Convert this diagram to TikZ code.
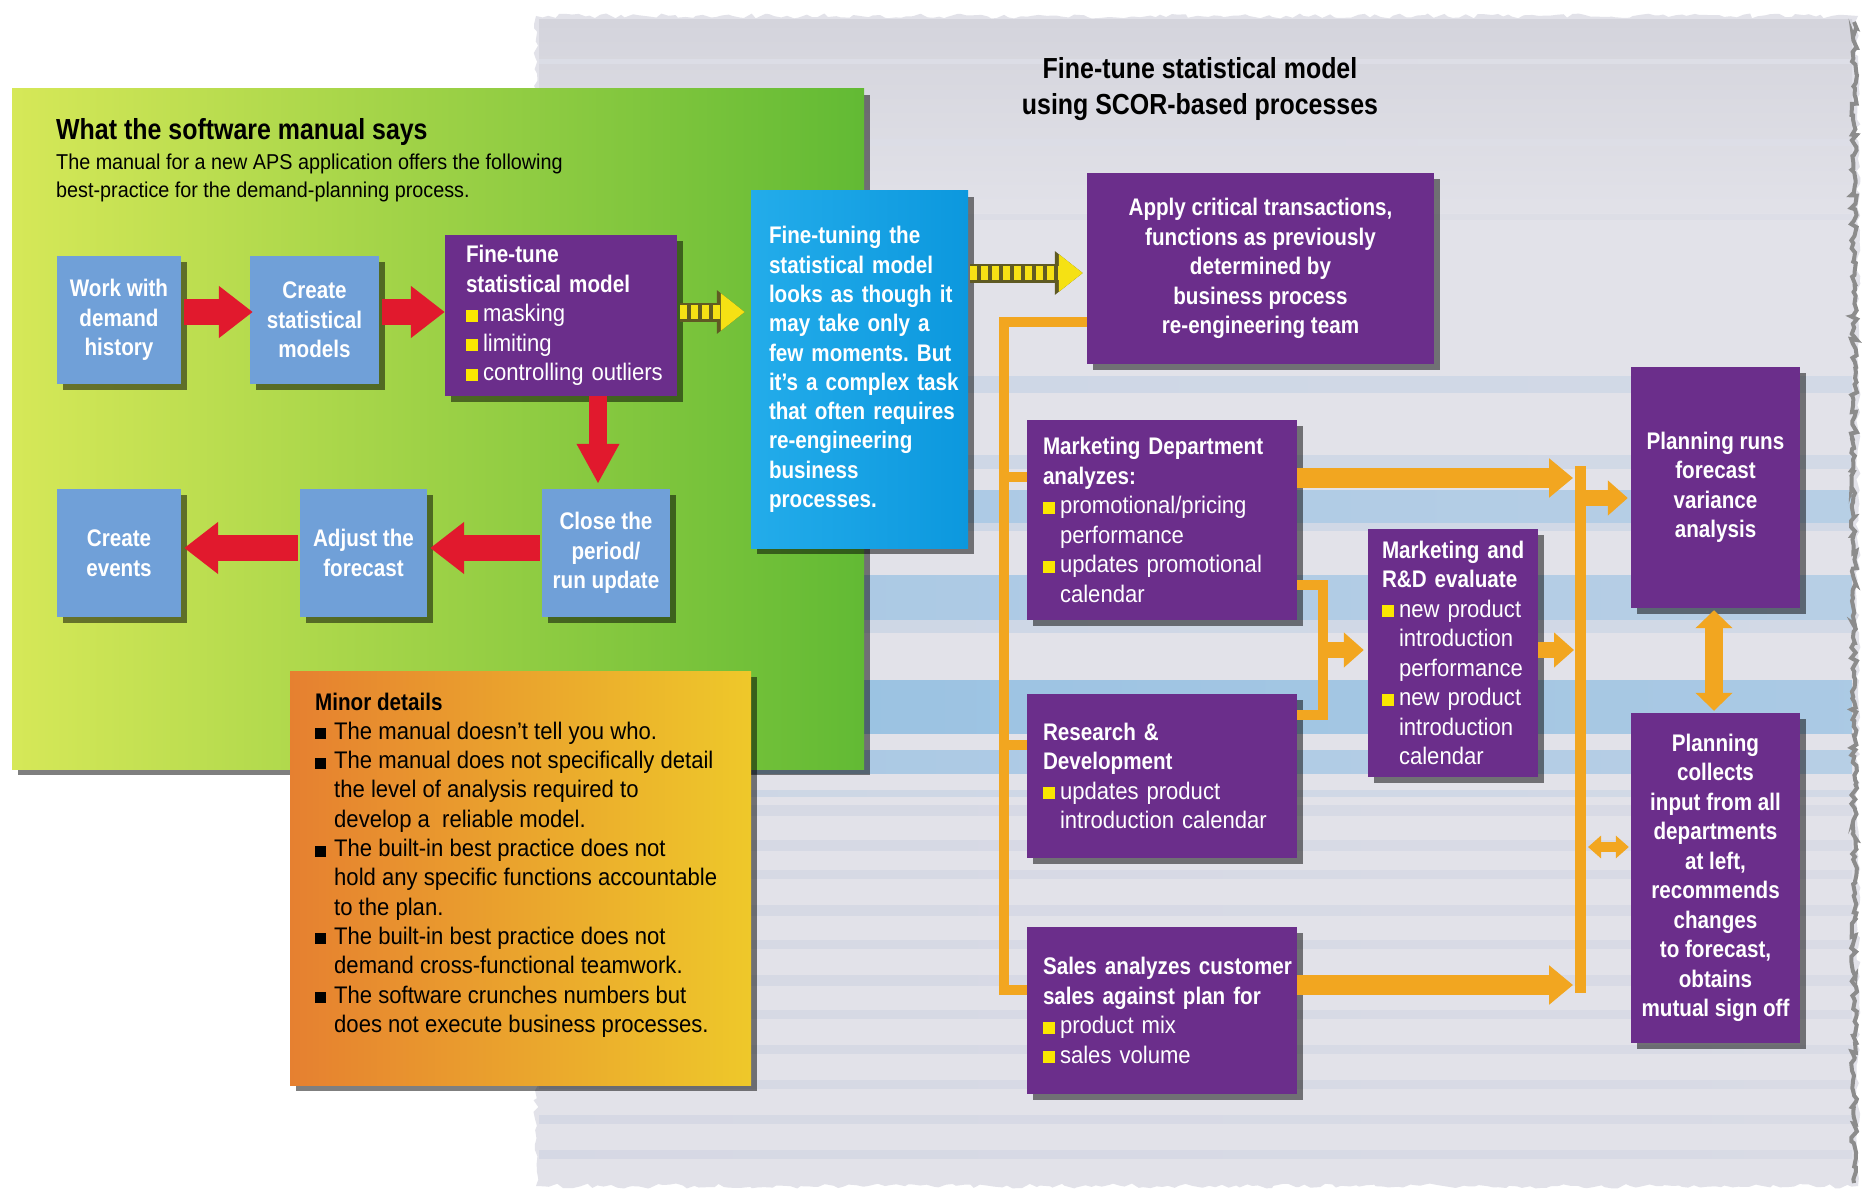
\documentclass[tikz,border=0pt]{standalone}
\usepackage{fontspec}
\setmainfont{Liberation Sans}[FakeStretch=0.92]
\newfontfamily\condreg{Liberation Sans}[FakeStretch=0.92]
\newfontfamily\condbold{Liberation Sans}[FakeStretch=0.86]
\usetikzlibrary{arrows.meta,shadows,calc,decorations.pathmorphing}
\frenchspacing

\definecolor{lblue}{RGB}{112,160,216}
\definecolor{purp}{RGB}{107,46,139}
\definecolor{cyanL}{RGB}{35,172,234}
\definecolor{cyanR}{RGB}{12,152,222}
\definecolor{orng}{RGB}{242,166,32}
\definecolor{arrred}{RGB}{225,25,45}
\definecolor{ybul}{RGB}{250,230,0}
\definecolor{yarr}{RGB}{245,225,20}
\definecolor{yarrdark}{RGB}{95,90,35}
\definecolor{pgray}{RGB}{226,226,233}
\definecolor{ptop}{RGB}{212,212,220}
\definecolor{st1}{RGB}{88,165,220}
\definecolor{st2}{RGB}{120,178,224}
\definecolor{st3}{RGB}{186,204,226}
\definecolor{st4}{RGB}{203,208,224}
\definecolor{st5}{RGB}{214,216,227}
\definecolor{gL}{RGB}{214,232,88}
\definecolor{gM}{RGB}{162,212,72}
\definecolor{gR}{RGB}{98,186,52}
\definecolor{oL}{RGB}{230,128,48}
\definecolor{oR}{RGB}{238,200,42}

\newcommand\bt[1]{\mbox{\condbold\bfseries #1}}
\newcommand\yb[1]{\mbox{\textcolor{ybul}{\rule{12pt}{12pt}}\hspace{5pt}\condreg #1}}
\newcommand\yc[1]{\mbox{\hspace*{17pt}\condreg #1}}
\newcommand\kb[1]{\mbox{\rule{11pt}{11pt}\hspace{8pt}\condreg #1}}
\newcommand\kc[1]{\mbox{\hspace*{19pt}\condreg #1}}

\tikzset{
  shad/.style={drop shadow={shadow xshift=6pt, shadow yshift=-6pt, opacity=0.5, fill=black}},
  boxfont/.style={font=\fontsize{24}{29.5}\selectfont\condbold\bfseries},
  lbox/.style={shad, fill=lblue, text=white, align=center, inner sep=0pt, boxfont},
  pbox/.style={shad, fill=purp, text=white, align=center, inner sep=0pt, boxfont},
  plbox/.style={shad, fill=purp, text=white, align=left, inner ysep=0pt, font=\fontsize{24}{29.5}\selectfont},
  redarr/.style={draw=arrred, line width=26pt, -{Triangle[width=50pt,length=34pt]}},
  redarrv/.style={draw=arrred, line width=18pt, -{Triangle[width=40pt,length=40pt]}},
  yarrow/.style={draw=yarr, line width=14pt, dash pattern=on 7pt off 4pt,
     -{Triangle[width=36pt,length=24pt]},
     preaction={draw=yarrdark, solid, line width=19pt, -{Triangle[width=42pt,length=28pt]}}},
  oline/.style={draw=orng, line width=10pt},
  obig/.style={draw=orng, line width=20pt, -{Triangle[width=38pt,length=24pt]}},
  omed/.style={draw=orng, line width=16pt, -{Triangle[width=34pt,length=20pt]}},
  odbl/.style={draw=orng, line width=18pt, {Triangle[width=36pt,length=18pt]}-{Triangle[width=36pt,length=18pt]}},
  osdbl/.style={draw=orng, line width=10pt, {Triangle[width=22pt,length=13pt]}-{Triangle[width=22pt,length=13pt]}},
}

\begin{document}
\begin{tikzpicture}[x=1pt,y=-1pt]
\useasboundingbox (0,0) rectangle (1869,1193);
\fill[white] (0,0) rectangle (1869,1193);

% ---- gray right panel
\pgfmathsetseed{42}
\fill[pgray, decorate, decoration={random steps, segment length=6pt, amplitude=2.5pt}]
  (536,16) -- (1858,16) -- (1858,1186) -- (536,1186) -- cycle;
\begin{scope}
\clip (539,20) rectangle (1852,1183);
\shade[top color=ptop, bottom color=pgray] (539,20) rectangle (1852,220);
\foreach \a/\b/\c in {60/64/st5, 140/146/st5, 215/220/st5, 376/392/st3, 455/468/st3,
   490/523/st2, 523/530/st3, 575/620/st2, 620/632/st3, 680/733/st1, 750/773/st2,
   790/796/st3, 805/815/st4, 840/850/st4, 870/878/st4, 905/915/st4, 940/948/st4,
   975/985/st4, 1010/1018/st4, 1045/1053/st4, 1080/1088/st4, 1115/1123/st4, 1150/1158/st4}
  \shade[left color=\c!55!pgray, middle color=\c, right color=\c!40!pgray] (536,\a) rectangle (1858,\b);
\end{scope}
\draw[black!45, line width=4pt, decorate, decoration={random steps, segment length=4pt, amplitude=3pt}]
  (1854,22) -- (1854,1183);

% ---- green left panel
\shade[shad, left color=gL, middle color=gM, right color=gR] (12,89) rectangle (864,769);
\node[anchor=west, inner sep=0pt, font=\fontsize{29}{34}\selectfont\condbold\bfseries] (head) at (56,132)
  {What the software manual says};
\node[anchor=west, inner sep=0pt, align=left, font=\fontsize{21.5}{28.6}\selectfont\condreg] (sub) at (56,178)
  {The manual for a new APS application offers the following\\best-practice for the demand-planning process.};

% ---- minor details panel
\shade[shad, left color=oL, right color=oR] (290,671) rectangle (751,1085);
\node[anchor=west, inner sep=0pt, align=left, font=\fontsize{24}{29.3}\selectfont] (mtext) at (315,865)
  {\bt{Minor details}\\
   \kb{The manual doesn’t tell you who.}\\
   \kb{The manual does not specifically detail}\\
   \kc{the level of analysis required to}\\
   \kc{develop a \ reliable model.}\\
   \kb{The built-in best practice does not}\\
   \kc{hold any specific functions accountable}\\
   \kc{to the plan.}\\
   \kb{The built-in best practice does not}\\
   \kc{demand cross-functional teamwork.}\\
   \kb{The software crunches numbers but}\\
   \kc{does not execute business processes.}};

% ---- title right
\node[align=center, inner sep=0pt, font=\fontsize{29}{35.8}\selectfont\condbold\bfseries] (title) at (1200,89)
  {Fine-tune statistical model\\using SCOR-based processes};

% ---- left flow boxes
\node[lbox, minimum width=124pt, minimum height=128pt] (work) at (119,320) {Work with\\demand\\history};
\node[lbox, minimum width=129pt, minimum height=128pt] (create) at (314.5,320) {Create\\statistical\\models};
\node[plbox, minimum height=161pt, text width=190pt, inner xsep=21pt] (fine) at (561,315.5)
  {\bt{Fine-tune}\\\bt{statistical model}\\\yb{masking}\\\yb{limiting}\\\yb{controlling outliers}};
\node[lbox, minimum width=128pt, minimum height=128pt] (close) at (606,553) {Close the\\period/\\run update};
\node[lbox, minimum width=127pt, minimum height=128pt] (adjust) at (363.5,553) {Adjust the\\forecast};
\node[lbox, minimum width=124pt, minimum height=128pt] (events) at (119,553) {Create\\events};

% ---- blue text box
\node[shad, left color=cyanL, right color=cyanR, text=white, align=left, inner ysep=0pt,
  font=\fontsize{24}{29.3}\selectfont, minimum height=357pt, text width=181pt, inner xsep=18pt] (blue) at (859.5,369.5)
  {\bt{Fine-tuning the}\\\bt{statistical model}\\\bt{looks as though it}\\\bt{may take only a}\\\bt{few moments. But}\\
   \bt{it’s a complex task}\\\bt{that often requires}\\\bt{re-engineering}\\\bt{business}\\\bt{processes.}};

% ---- right boxes
\node[pbox, minimum width=347pt, minimum height=191pt] (apply) at (1260.5,268.5)
  {Apply critical transactions,\\functions as previously\\determined by\\business process\\re-engineering team};
\node[plbox, minimum height=200pt, text width=238pt, inner xsep=16pt] (mkt) at (1162,520)
  {\bt{Marketing Department}\\\bt{analyzes:}\\\yb{promotional/pricing}\\\yc{performance}\\\yb{updates promotional}\\\yc{calendar}};
\node[plbox, minimum height=164pt, text width=238pt, inner xsep=16pt] (rnd) at (1162,776)
  {\bt{Research \&}\\\bt{Development}\\\yb{updates product}\\\yc{introduction calendar}};
\node[plbox, minimum height=167pt, text width=238pt, inner xsep=16pt] (sales) at (1162,1010.5)
  {\bt{Sales analyzes customer}\\\bt{sales against plan for}\\\yb{product mix}\\\yb{sales volume}};
\node[plbox, minimum height=248pt, text width=142pt, inner xsep=14pt] (mrd) at (1453,653)
  {\bt{Marketing and}\\\bt{R\&D evaluate}\\\yb{new product}\\\yc{introduction}\\\yc{performance}\\\yb{new product}\\\yc{introduction}\\\yc{calendar}};
\node[pbox, minimum width=169pt, minimum height=241pt] (prun) at (1715.5,487.5)
  {Planning runs\\forecast\\variance\\analysis};
\node[pbox, minimum width=169pt, minimum height=330pt] (pcol) at (1715.5,878)
  {Planning\\collects\\input from all\\departments\\at left,\\recommends\\changes\\to forecast,\\obtains\\mutual sign off};

% ---- red arrows
\draw[redarr] ($(work.east)+(3,-8)$) -- ($(create.west)+(3,-8)$);
\draw[redarr] ($(create.east)+(3,-8)$) -- ($(fine.west)+(0,-3.5)$);
\draw[redarrv] ($(fine.south -| close.north)+(-8,0)$) -- ($(close.north)+(-8,-5)$);
\draw[redarr] ($(close.west)+(-2,-5)$) -- ($(adjust.east)+(3,-5)$);
\draw[redarr] ($(adjust.west)+(-2,-5)$) -- ($(events.east)+(3,-5)$);

% ---- yellow arrows
\draw[yarrow] ($(fine.east)+(3,-3.5)$) -- ($(fine.east -| blue.west)+(-6,-3.5)$);
\draw[yarrow] ($(blue.east)+(2,-96.5)$) -- ($(blue.east -| apply.west)+(-4,-96.5)$);

% ---- orange connectors, left trunk
\coordinate (lt) at (1004,322);
\coordinate (lb) at (1004,990);
\coordinate (jm) at (1004,477);
\coordinate (jr) at (1004,745);
\draw[oline] (lt -| apply.west) -- (lt) -- (lb) -- (lb -| sales.west);
\draw[oline] (jm) -- (jm -| mkt.west);
\draw[oline] (jr) -- (jr -| rnd.west);

% ---- middle join to Marketing and R&D
\coordinate (mj1) at (1323,585);
\coordinate (mj2) at (1323,715);
\coordinate (mj) at (1323,650);
\draw[oline] (mj1 -| mkt.east) -- (mj1) -- (mj2) -- (mj2 -| rnd.east);
\draw[omed] (mj) -- ($(mj -| mrd.west)+(-4,0)$);

% ---- right trunk
\coordinate (rt) at (1580,466);
\coordinate (rb) at (1580,993);
\draw[oline, line width=11pt] (rt) -- (rb);
\coordinate (am) at (1573,478);
\draw[obig] (am -| mkt.east) -- (am);
\coordinate (as) at (1573,985);
\draw[obig] (as -| sales.east) -- (as);
\coordinate (ae) at (1574,650);
\draw[omed] (ae -| mrd.east) -- (ae);
\coordinate (ap) at (1580,498);
\draw[omed] (ap) -- ($(ap -| prun.west)+(-3,0)$);
\coordinate (ac) at (1588,847);
\draw[osdbl] (ac) -- ($(ac -| pcol.west)+(-2,0)$);
\draw[odbl] ($(prun.south)+(-1.5,2)$) -- ($(pcol.north)+(-1.5,-2)$);
\end{tikzpicture}
\end{document}
